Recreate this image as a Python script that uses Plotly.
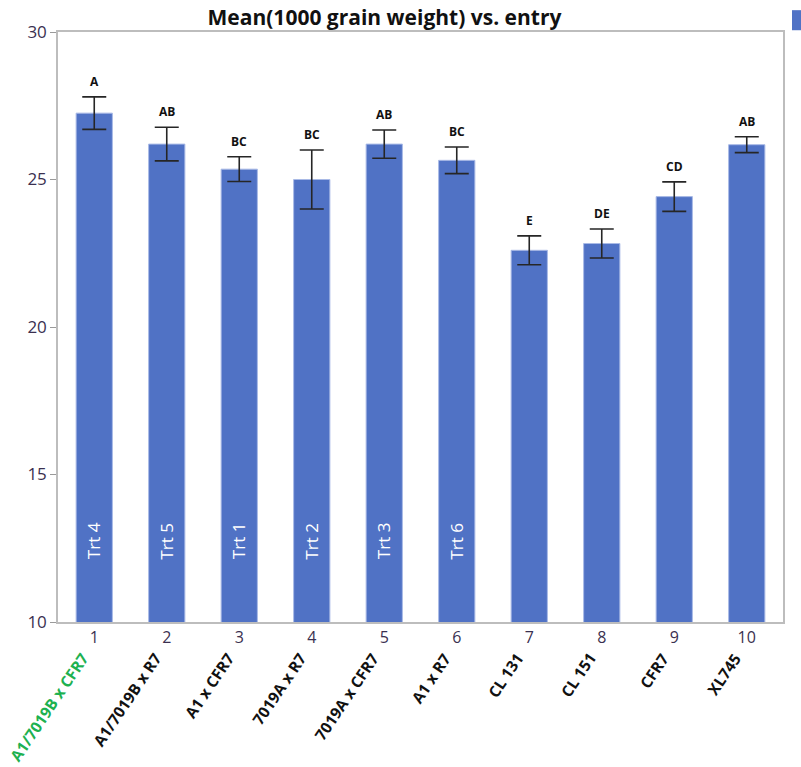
import plotly.graph_objects as go

entries = [1, 2, 3, 4, 5, 6, 7, 8, 9, 10]
names = ["A1/7019B x CFR7", "A1/7019B x R7", "A1 x CFR7", "7019A x R7", "7019A x CFR7",
         "A1 x R7", "CL 131", "CL 151", "CFR7", "XL745"]
means = [27.25, 26.2, 25.35, 25.0, 26.2, 25.65, 22.6, 22.83, 24.42, 26.18]
errors = [0.55, 0.57, 0.42, 1.0, 0.48, 0.45, 0.49, 0.49, 0.5, 0.27]
letters = ["A", "AB", "BC", "BC", "AB", "BC", "E", "DE", "CD", "AB"]
trt = ["Trt 4", "Trt 5", "Trt 1", "Trt 2", "Trt 3", "Trt 6", "", "", "", ""]
name_colors = ["#1DB150"] + ["#111111"] * 9

FONT = "Open Sans"
BLUE = "#5072C5"

fig = go.Figure()
fig.add_trace(go.Bar(
    x=entries, y=means, width=0.5,
    marker=dict(color=BLUE, line=dict(color="#A9BAE6", width=1)),
    error_y=dict(type="data", array=errors, visible=True, color="#262626",
                 thickness=1.6, width=12),
    showlegend=False, hoverinfo="x+y",
))

# significance letters
for x, m, e, t in zip(entries, means, errors, letters):
    fig.add_annotation(x=x, y=m + e, text="<b>%s</b>" % t, showarrow=False,
                       yanchor="bottom", yshift=5,
                       font=dict(family=FONT, size=12, color="#111111"))

# treatment labels inside bars
for x, t in zip(entries, trt):
    if t:
        fig.add_annotation(x=x, y=12.75, text=t, showarrow=False, textangle=-90,
                           font=dict(family=FONT, size=17, color="white"))

# category names, rotated
for x, n, c in zip(entries, names, name_colors):
    fig.add_annotation(x=x, y=0, yref="paper", text="<b>%s</b>" % n, showarrow=False,
                       textangle=-56, xanchor="right", yanchor="top", yshift=-24, xshift=2,
                       font=dict(family=FONT, size=15.5, color=c))

# legend swatch (cut off at right edge)
fig.add_shape(type="rect", xref="paper", yref="paper", x0=1.0124, x1=1.04,
              y0=1.003, y1=1.037, fillcolor=BLUE, line=dict(width=0))

fig.update_layout(
    width=801, height=767,
    margin=dict(l=58, r=18, t=32, b=145),
    paper_bgcolor="white", plot_bgcolor="white",
    title=dict(text="<b>Mean(1000 grain weight) vs. entry</b>", x=0.48, xanchor="center",
               y=0.977, yanchor="middle", font=dict(family=FONT, size=21, color="#111111")),
    xaxis=dict(range=[0.5, 10.5], tickmode="array", tickvals=entries,
               ticktext=[str(e) for e in entries], showgrid=False,
               showline=True, linecolor="#BDBDBD", linewidth=1.5, mirror=True,
               ticks="", tickfont=dict(family=FONT, size=16, color="#3A3050"), zeroline=False),
    yaxis=dict(range=[10, 30], tickvals=[10, 15, 20, 25, 30], showgrid=False,
               showline=True, linecolor="#BDBDBD", linewidth=1.5, mirror=True,
               ticks="outside", ticklen=6, tickcolor="#9A9A9A",
               tickfont=dict(family=FONT, size=17, color="#3A3050"), zeroline=False),
)

fig.write_html("out.html", config={"displayModeBar": False},
               post_script="document.body.style.margin='0';document.body.style.overflow='hidden';")
